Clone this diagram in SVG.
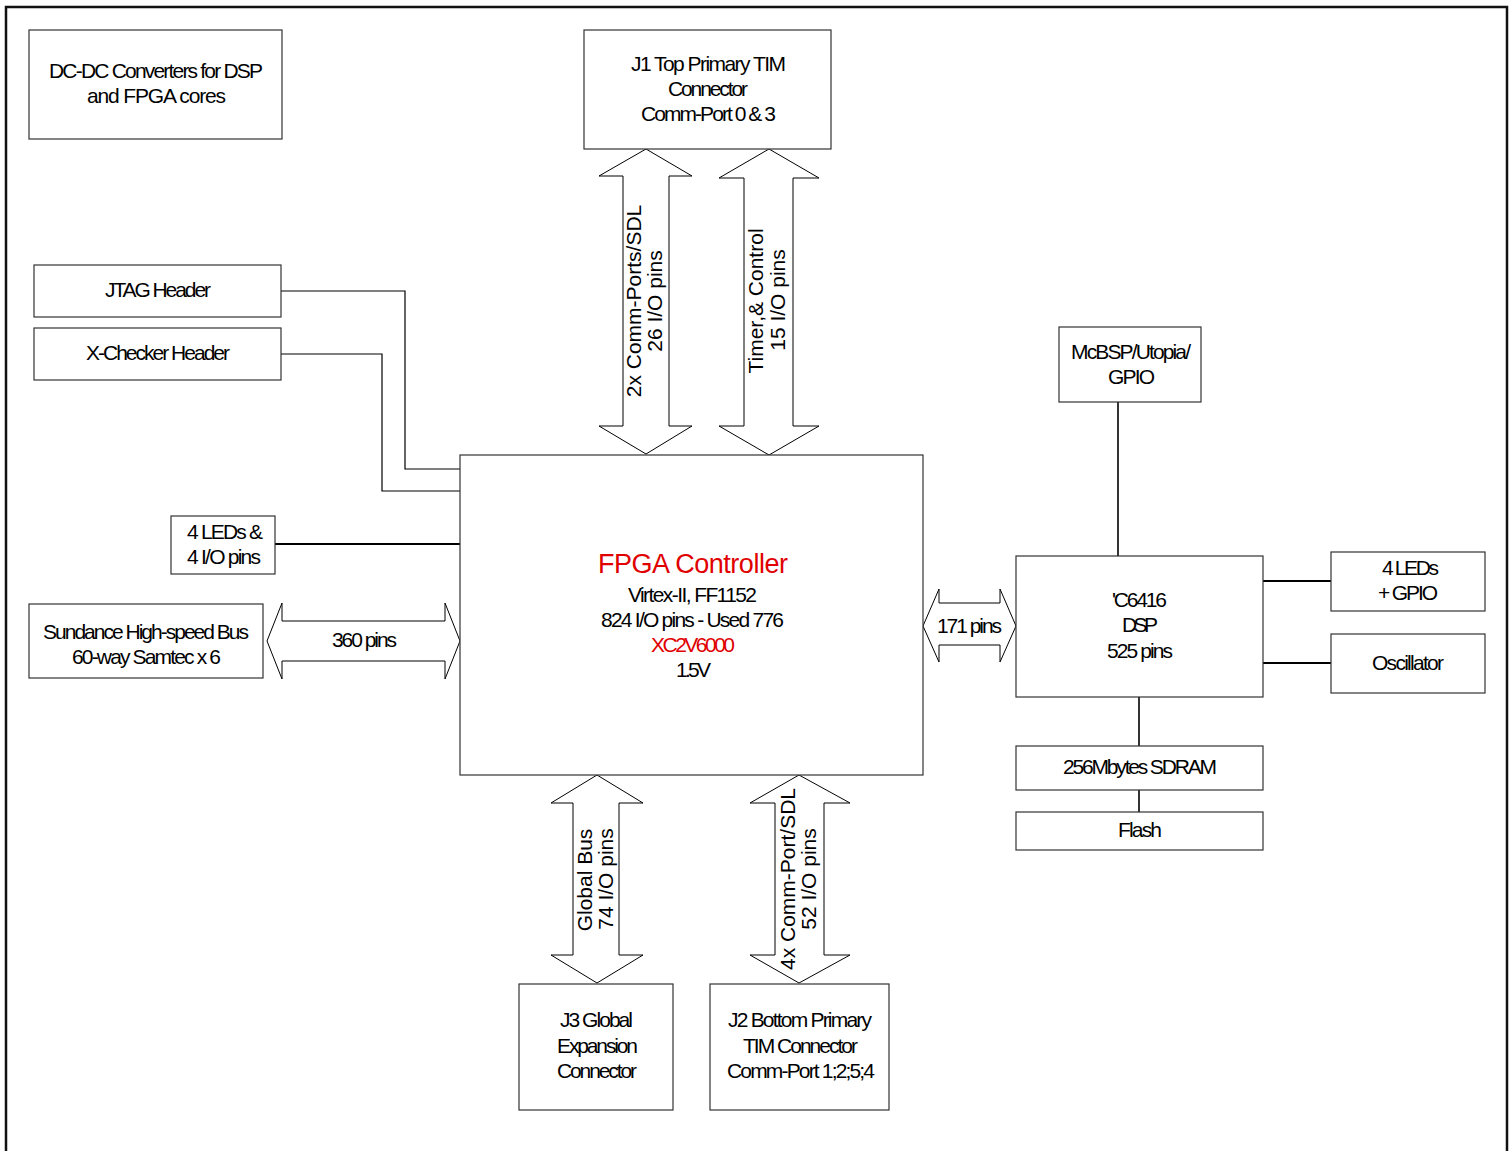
<svg xmlns="http://www.w3.org/2000/svg" width="1512" height="1151" viewBox="0 0 1512 1151">
<style>
.box{fill:#fff;stroke:#333;stroke-width:1.2}
.t{font-family:"Liberation Sans",Arial,sans-serif;font-size:21px;fill:#000}
.r{fill:#e00000}
.v{font-family:"Liberation Sans",Arial,sans-serif;font-size:21px;fill:#000;text-anchor:middle}
.ln{fill:none;stroke:#000;stroke-width:1.2}
.th{stroke-width:2.2}
.ar{fill:#fff;stroke:#000;stroke-width:1}
</style>
<rect width="1512" height="1151" fill="#fff"/>
<path d="M6,1155 V7 H1507 V1155" fill="none" stroke="#111" stroke-width="2.5"/>

<g id="connectors">
<polyline class="ln" points="281,291 405,291 405,469 460,469"/>
<polyline class="ln" points="281,354 382,354 382,491 460,491"/>
<line class="ln th" x1="275" y1="544" x2="460" y2="544"/>
<line class="ln th" x1="1118" y1="402" x2="1118" y2="556" style="stroke-width:1.6"/>
<line class="ln th" x1="1263" y1="581" x2="1331" y2="581"/>
<line class="ln th" x1="1263" y1="663" x2="1331" y2="663"/>
<line class="ln" x1="1139" y1="697" x2="1139" y2="746" style="stroke-width:1.6"/>
<line class="ln" x1="1139" y1="790" x2="1139" y2="812" style="stroke-width:1.6"/>
<polygon class="ar" points="646,149 692,176 669,176 669,426 692,426 646,454 599,426 623,426 623,176 599,176"/>
<polygon class="ar" points="769,149 819,178 793,178 793,426 819,426 769,455 719,426 744,426 744,178 719,178"/>
<polygon class="ar" points="597,775 643,803 619,803 619,955 643,955 597,983 551,955 573,955 573,803 551,803"/>
<polygon class="ar" points="799,775 850,803 824,803 824,955 850,955 799,983 750,955 775,955 775,803 750,803"/>
<polygon class="ar" points="267,641 282,603 282,621 445,621 445,603 460,641 445,679 445,661 282,661 282,679"/>
<polygon class="ar" points="923,626 939,589 939,603 1000,603 1000,589 1016,626 1000,662 1000,645 939,645 939,662"/>
<text class="v" transform="translate(641,301) rotate(-90)">2x Comm-Ports/SDL</text>
<text class="v" transform="translate(662,301) rotate(-90)">26 I/O pins</text>
<text class="v" transform="translate(763,301) rotate(-90)">Timer,&amp; Control</text>
<text class="v" transform="translate(785,300) rotate(-90)">15 I/O pins</text>
<text class="v" transform="translate(592,880) rotate(-90)">Global Bus</text>
<text class="v" transform="translate(613,879) rotate(-90)">74 I/O pins</text>
<text class="v" transform="translate(795,879) rotate(-90)">4x Comm-Port/SDL</text>
<text class="v" transform="translate(816,879) rotate(-90)">52 I/O pins</text>
<text class="t" x="332" y="647" textLength="65" lengthAdjust="spacing">360 pins</text>
<text class="t" x="937" y="633" textLength="65" lengthAdjust="spacing">171 pins</text>
</g>

<g id="dcdc">
<rect class="box" x="29" y="30" width="253" height="109"/>
<text class="t" x="49" y="78" textLength="214" lengthAdjust="spacing">DC-DC Converters for DSP</text>
<text class="t" x="87" y="103" textLength="139" lengthAdjust="spacing">and FPGA cores</text>
</g>

<g id="j1">
<rect class="box" x="584" y="30" width="247" height="119"/>
<text class="t" x="631" y="71" textLength="155" lengthAdjust="spacing">J1 Top Primary TIM</text>
<text class="t" x="668" y="96" textLength="80" lengthAdjust="spacing">Connector</text>
<text class="t" x="641" y="121" textLength="135" lengthAdjust="spacing">Comm-Port 0 &amp; 3</text>
</g>

<g id="jtag">
<rect class="box" x="34" y="265" width="247" height="52"/>
<text class="t" x="105" y="297" textLength="106" lengthAdjust="spacing">JTAG Header</text>
</g>

<g id="xchecker">
<rect class="box" x="34" y="328" width="247" height="52"/>
<text class="t" x="86" y="360" textLength="144" lengthAdjust="spacing">X-Checker Header</text>
</g>

<g id="leds-left">
<rect class="box" x="171" y="516" width="104" height="58"/>
<text class="t" x="187" y="539" textLength="76" lengthAdjust="spacing">4 LEDs &amp;</text>
<text class="t" x="187" y="564" textLength="74" lengthAdjust="spacing">4 I/O pins</text>
</g>

<g id="sundance">
<rect class="box" x="29" y="604" width="234" height="74"/>
<text class="t" x="43" y="639" textLength="206" lengthAdjust="spacing">Sundance High-speed Bus</text>
<text class="t" x="72" y="664" textLength="149" lengthAdjust="spacing">60-way Samtec x 6</text>
</g>

<g id="fpga">
<rect class="box" x="460" y="455" width="463" height="320"/>
<text class="t r" x="598" y="573" textLength="190" lengthAdjust="spacing" style="font-size:27px">FPGA Controller</text>
<text class="t" x="628" y="602" textLength="129" lengthAdjust="spacing">Virtex-II, FF1152</text>
<text class="t" x="601" y="627" textLength="183" lengthAdjust="spacing">824 I/O pins - Used 776</text>
<text class="t r" x="651" y="652" textLength="84" lengthAdjust="spacing">XC2V6000</text>
<text class="t" x="676" y="677" textLength="35" lengthAdjust="spacing">1.5V</text>
</g>

<g id="mcbsp">
<rect class="box" x="1059" y="327" width="142" height="75"/>
<text class="t" x="1071" y="359" textLength="120" lengthAdjust="spacing">McBSP/Utopia/</text>
<text class="t" x="1108" y="384" textLength="47" lengthAdjust="spacing">GPIO</text>
</g>

<g id="dsp">
<rect class="box" x="1016" y="556" width="247" height="141"/>
<text class="t" x="1112" y="607" textLength="55" lengthAdjust="spacing">'C6416</text>
<text class="t" x="1122" y="632" textLength="36" lengthAdjust="spacing">DSP</text>
<text class="t" x="1107" y="658" textLength="66" lengthAdjust="spacing">525 pins</text>
</g>

<g id="leds-right">
<rect class="box" x="1331" y="552" width="154" height="59"/>
<text class="t" x="1382" y="575" textLength="57" lengthAdjust="spacing">4 LEDs</text>
<text class="t" x="1378" y="600" textLength="60" lengthAdjust="spacing">+ GPIO</text>
</g>

<g id="oscillator">
<rect class="box" x="1331" y="634" width="154" height="59"/>
<text class="t" x="1372" y="670" textLength="72" lengthAdjust="spacing">Oscillator</text>
</g>

<g id="sdram">
<rect class="box" x="1016" y="746" width="247" height="44"/>
<text class="t" x="1063" y="774" textLength="154" lengthAdjust="spacing">256Mbytes SDRAM</text>
</g>

<g id="flash">
<rect class="box" x="1016" y="812" width="247" height="38"/>
<text class="t" x="1118" y="837" textLength="44" lengthAdjust="spacing">Flash</text>
</g>

<g id="j3">
<rect class="box" x="519" y="984" width="154" height="126"/>
<text class="t" x="560" y="1027" textLength="73" lengthAdjust="spacing">J3 Global</text>
<text class="t" x="557" y="1053" textLength="81" lengthAdjust="spacing">Expansion</text>
<text class="t" x="557" y="1078" textLength="80" lengthAdjust="spacing">Connector</text>
</g>

<g id="j2">
<rect class="box" x="710" y="984" width="179" height="126"/>
<text class="t" x="728" y="1027" textLength="144" lengthAdjust="spacing">J2 Bottom Primary</text>
<text class="t" x="743" y="1053" textLength="115" lengthAdjust="spacing">TIM Connector</text>
<text class="t" x="727" y="1078" textLength="148" lengthAdjust="spacing">Comm-Port 1;2;5;4</text>
</g>
</svg>
